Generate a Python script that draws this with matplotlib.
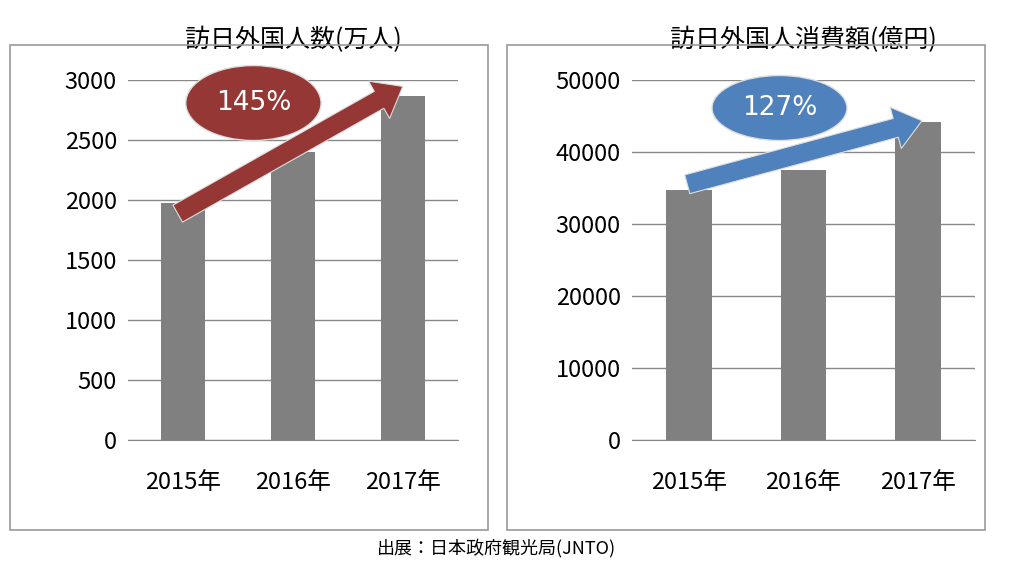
import matplotlib.pyplot as plt
from matplotlib.patches import Ellipse, FancyArrow, Rectangle

plt.rcParams['font.family'] = 'Noto Sans CJK JP'

years = ['2015年', '2016年', '2017年']
visitors = [1974, 2404, 2869]
spending = [34771, 37476, 44162]

fig = plt.figure(figsize=(10.24, 5.68), dpi=100)
W, H = 1024, 568


def px(x0, y0, x1, y1):
    return [x0 / W, 1 - y1 / H, (x1 - x0) / W, (y1 - y0) / H]


# panel frames
for x0, x1 in [(10, 488), (507, 985)]:
    fig.patches.append(Rectangle((x0 / W, 1 - 530 / H), (x1 - x0) / W, 485 / H,
                                 transform=fig.transFigure, fill=False,
                                 edgecolor='#999999', lw=1.2))


def panel(rect, values, ymax, step, title, label, color, arrow, ell):
    ax = fig.add_axes(rect)
    ax.bar(range(3), values, width=0.4, color='#808080', zorder=2)
    ax.set_xlim(-0.5, 2.5)
    ax.set_ylim(0, ymax)
    ax.set_yticks(range(0, ymax + 1, step))
    ax.set_xticks(range(3))
    ax.set_xticklabels(years, fontsize=17)
    ax.tick_params(axis='y', labelsize=17, length=0, pad=8)
    ax.tick_params(axis='x', length=0, pad=22)
    ax.grid(axis='y', color='#888888', lw=1, zorder=0)
    for s in ['top', 'right', 'left']:
        ax.spines[s].set_visible(False)
    ax.spines['bottom'].set_color('#888888')
    ax.set_title(title, fontsize=18, pad=24)
    x0, y0, x1, y1 = arrow
    ax.annotate('', xy=(x1, y1), xytext=(x0, y0), zorder=4,
                arrowprops=dict(arrowstyle='simple,head_width=2.2,head_length=1.4,tail_width=1.0',
                                fc=color, ec='#dddddd', lw=0.8, mutation_scale=14),
                annotation_clip=False)
    cx, cy, ew, eh = ell
    ax.add_patch(Ellipse((cx, cy), ew, eh, facecolor=color, edgecolor='#dddddd',
                         zorder=3, clip_on=False))
    ax.text(cx, cy, label, color='white', fontsize=19, ha='center', va='center',
            zorder=5, family='DejaVu Sans')
    return ax


panel(px(128, 80, 458, 440), visitors, 3000, 500, '訪日外国人数(万人)', '145%',
      '#953735', (-0.07, 1875, 2.02, 2958), (0.64, 2808, 1.23, 625))
panel(px(632, 80, 975, 440), spending, 50000, 10000, '訪日外国人消費額(億円)', '127%',
      '#4f81bd', (-0.04, 35417, 2.06, 44444), (0.79, 46111, 1.18, 9028))

fig.text(0.485, 1 - 548 / H, '出展：日本政府観光局(JNTO)', ha='center', va='center', fontsize=13)

fig.savefig('out.png', dpi=100)
